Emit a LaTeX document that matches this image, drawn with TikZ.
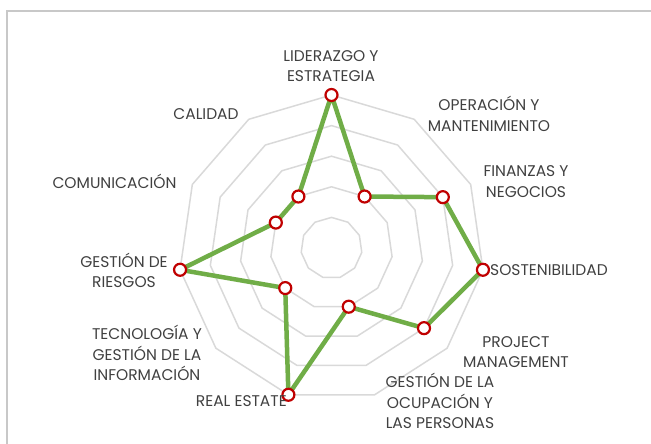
\documentclass[tikz,border=0pt]{standalone}
\usepackage{fontspec}
\setmainfont{Poppins}
\usepackage{tikz}

\definecolor{verdeserie}{RGB}{112,173,71}
\definecolor{rojomarca}{RGB}{192,0,0}
\definecolor{grisrejilla}{RGB}{217,217,217}
\definecolor{gristexto}{RGB}{64,64,64}
\definecolor{grismarco}{RGB}{200,200,200}

\tikzset{
  ring/.style={draw=grisrejilla,line width=1.5pt,line join=round},
  linea/.style={draw=verdeserie,line width=4.5pt,line join=round},
  dotmark/.style={circle,draw=rojomarca,fill=white,line width=2.2pt,minimum size=12pt,inner sep=0pt},
  etiqueta/.style={text=gristexto,align=center,inner sep=0pt,font=\fontsize{15.5}{20.5}\selectfont},
}

\begin{document}
\begin{tikzpicture}[x=1pt,y=1pt]
  \useasboundingbox (-331.5,-196) rectangle (319.5,248);
  % marco del grafico
  \draw[grismarco,line width=2pt] (-324.5,-210) |- (340,237);

  % rejilla
  \foreach \k in {1,...,5}{
    \draw[ring] (90:\k*30.6) \foreach \i in {1,...,10}{ -- (90-\i*360/11:\k*30.6)} -- cycle;
  }

  % valores
  \foreach \v [count=\i from 0] in {5,2,4,5,4,2,5,2,5,2,2}
    \coordinate (v\i) at (90-\i*360/11:\v*30.6);
  \draw[linea] (v0) -- (v1) -- (v2) -- (v3) -- (v4) -- (v5) -- (v6) -- (v7) -- (v8) -- (v9) -- (v10) -- cycle;
  \foreach \i in {0,...,10}
    \node[dotmark] (p\i) at (v\i) {};

  % etiquetas
  \node[etiqueta] (lid) at (-0.5,182) {LIDERAZGO Y\\ESTRATEGIA};
  \node[etiqueta] (ope) at (157.5,134) {OPERACIÓN Y\\MANTENIMIENTO};
  \node[etiqueta] (fin) at (194.5,66.5) {FINANZAS Y\\NEGOCIOS};
  \node[etiqueta,anchor=west] (sos) at (158.5,-22) {SOSTENIBILIDAD};
  \node[etiqueta] (pro) at (184.5,-104) {PROJECT\\MANAGEMENT};
  \node[etiqueta] (ocu) at (108.5,-153) {GESTIÓN DE LA\\OCUPACIÓN Y\\LAS PERSONAS};
  \node[etiqueta,anchor=east] (rea) at (-44.5,-153) {REAL ESTATE};
  \node[etiqueta] (tec) at (-184.5,-105) {TECNOLOGÍA Y\\GESTIÓN DE LA\\INFORMACIÓN};
  \node[etiqueta] (rie) at (-207.5,-22.5) {GESTIÓN DE\\RIESGOS};
  \node[etiqueta] (com) at (-217,67) {COMUNICACIÓN};
  \node[etiqueta] (cal) at (-125.5,134) {CALIDAD};
\end{tikzpicture}
\end{document}
